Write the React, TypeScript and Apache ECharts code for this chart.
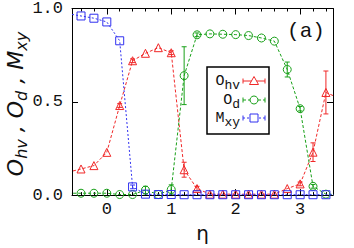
import React, { useEffect, useRef } from "react";
import * as echarts from "echarts";

const ETA = [-0.6, -0.4, -0.2, 0, 0.2, 0.4, 0.6, 0.8, 1.0, 1.2, 1.4, 1.6, 1.8, 2.0, 2.2, 2.4, 2.6, 2.8, 3.0, 3.2, 3.4, 3.6];
const O_HV = [0.123, 0.14, 0.158, 0.229, 0.48, 0.72, 0.76, 0.79, 0.763, 0.136, 0.035, 0.005, 0.005, 0.005, 0.005, 0.005, 0.005, 0.035, 0.06, 0.23, 0.55, 0.52];
const O_HV_ERR = [0.005, 0.005, 0.005, 0.006, 0.01, 0.01, 0.008, 0.008, 0.01, 0.04, 0.012, 0.004, 0.004, 0.004, 0.004, 0.004, 0.004, 0.008, 0.01, 0.05, 0.115, 0.1];
const O_D = [0.01, 0.01, 0.01, 0.01, 0.003, 0.003, 0.027, 0.003, 0.03, 0.64, 0.859, 0.864, 0.862, 0.86, 0.855, 0.842, 0.825, 0.673, 0.463, 0.047, 0.005, 0.003];
const O_D_ERR = [0.004, 0.004, 0.006, 0.004, 0.004, 0.004, 0.02, 0.004, 0.025, 0.155, 0.01, 0.006, 0.006, 0.006, 0.006, 0.006, 0.006, 0.04, 0.012, 0.01, 0.004, 0.004];
const M_XY = [0.972, 0.96, 0.948, 0.928, 0.827, 0.044, 0.005, 0.003, 0.003, 0.002, 0.002, 0.002, 0.002, 0.002, 0.002, 0.002, 0.002, 0.002, 0.002, 0.002, 0.002, 0.002];
const M_XY_ERR = [0.003, 0.003, 0.003, 0.004, 0.005, 0.01, 0.004, 0.003, 0.003, 0.003, 0.003, 0.003, 0.003, 0.003, 0.003, 0.003, 0.003, 0.003, 0.003, 0.003, 0.003, 0.003];

const X_MAJOR = [0, 1, 2, 3];
const X_MINOR = [-0.4, -0.2, 0.2, 0.4, 0.6, 0.8, 1.2, 1.4, 1.6, 1.8, 2.2, 2.4, 2.6, 2.8, 3.2, 3.4];
const X_MIN = -0.54;
const X_MAX = 3.51;

const RED = "#f02828";
const GREEN = "#18a018";
const BLUE = "#3030f0";
const MONO = "Liberation Mono, DejaVu Sans Mono, monospace";

function errSeries(vals: number[], errs: number[], color: string) {
  return {
    type: "custom",
    data: ETA.map((x, i) => [x, vals[i], errs[i]]),
    encode: { x: 0, y: 1 },
    clip: true,
    z: 1,
    silent: true,
    renderItem: (params: any, api: any) => {
      const x = api.value(0);
      const y = api.value(1);
      const e = api.value(2);
      const top = api.coord([x, y + e]);
      const bot = api.coord([x, y - e]);
      if (bot[1] - top[1] < 3) return null;
      const w = 2.5;
      const st = { stroke: color, lineWidth: 1 };
      return {
        type: "group",
        children: [
          { type: "line", shape: { x1: top[0], y1: top[1], x2: bot[0], y2: bot[1] }, style: st },
          { type: "line", shape: { x1: top[0] - w, y1: top[1], x2: top[0] + w, y2: top[1] }, style: st },
          { type: "line", shape: { x1: bot[0] - w, y1: bot[1], x2: bot[0] + w, y2: bot[1] }, style: st },
        ],
      };
    },
  };
}

function lineSeries(vals: number[], color: string, symbol: string, dash: number[], z: number) {
  return {
    type: "line",
    data: ETA.map((x, i) => [x, vals[i]]),
    symbol,
    symbolSize: 8,
    clip: true,
    z,
    itemStyle: { color: "rgba(255,255,255,0)", borderColor: color, borderWidth: 1 },
    lineStyle: { color, width: 1, type: dash },
    emphasis: { disabled: true },
  };
}

function legendRow(y: number, main: string, sub: string, color: string, dash: number[], kind: string) {
  const x1 = 243;
  const x2 = 265;
  const cx = 254;
  const st = { stroke: color, lineWidth: 1, lineDash: dash };
  const els: any[] = [
    {
      type: "text",
      x: 240,
      y: y,
      style: {
        text: `{m|${main}}{s|${sub}}`,
        align: "right",
        verticalAlign: "middle",
        rich: {
          m: { fontFamily: MONO, fontSize: 15, fill: "#111" },
          s: { fontFamily: MONO, fontSize: 13, fill: "#111", padding: [9, 0, 0, 0] },
        },
      },
    },
    { type: "line", shape: { x1, y1: y, x2, y2: y }, style: st },
    { type: "line", shape: { x1, y1: y - 2.5, x2: x1, y2: y + 2.5 }, style: { stroke: color, lineWidth: 1 } },
    { type: "line", shape: { x1: x2, y1: y - 2.5, x2: x2, y2: y + 2.5 }, style: { stroke: color, lineWidth: 1 } },
  ];
  const ms = { stroke: color, lineWidth: 1, fill: "#fff" };
  if (kind === "tri") els.push({ type: "polygon", shape: { points: [[cx, y - 4.5], [cx + 4.5, y + 3.5], [cx - 4.5, y + 3.5]] }, style: ms });
  if (kind === "circ") els.push({ type: "circle", shape: { cx, cy: y, r: 4 }, style: ms });
  if (kind === "sq") els.push({ type: "rect", shape: { x: cx - 4, y: y - 4, width: 8, height: 8 }, style: ms });
  return els;
}

export default function App() {
  const ref = useRef<HTMLDivElement>(null);
  useEffect(() => {
    if (!ref.current) return;
    const chart = echarts.init(ref.current, undefined, { renderer: "svg" });
    const axisLine = { show: true, onZero: false, lineStyle: { color: "#000", width: 1 } };
    const baseX = { type: "value", min: X_MIN, max: X_MAX, splitLine: { show: false } };
    const legendEls = [
      {
        type: "rect",
        shape: { x: 207, y: 67, width: 62, height: 67 },
        style: { fill: "#fff", stroke: "#000", lineWidth: 1.5 },
      },
      ...legendRow(81, "O", "hv", RED, [], "tri"),
      ...legendRow(100, "O", "d", GREEN, [3, 2], "circ"),
      ...legendRow(118, "M", "xy", BLUE, [2, 2], "sq"),
    ].map((e: any, i: number) => ({ ...e, z: 100 + i }));
    chart.setOption({
      animation: false,
      backgroundColor: "#fff",
      grid: { left: 72, top: 8, width: 261, height: 198, containLabel: false },
      xAxis: [
        {
          ...baseX,
          position: "bottom",
          axisLine,
          axisTick: { show: true, inside: true, length: 6, customValues: X_MAJOR, lineStyle: { color: "#000" } },
          axisLabel: { show: true, customValues: X_MAJOR, margin: 6, fontFamily: MONO, fontSize: 17, color: "#111" },
          name: "η",
          nameLocation: "middle",
          nameGap: 18,
          nameTextStyle: { fontFamily: "DejaVu Sans", fontSize: 20, color: "#111" },
        },
        {
          ...baseX,
          position: "bottom",
          axisLine: { show: false, onZero: false },
          axisTick: { show: true, inside: true, length: 3, customValues: X_MINOR, lineStyle: { color: "#000" } },
          axisLabel: { show: false },
        },
        {
          ...baseX,
          position: "top",
          axisLine,
          axisTick: { show: true, inside: true, length: 6, customValues: X_MAJOR, lineStyle: { color: "#000" } },
          axisLabel: { show: false },
        },
        {
          ...baseX,
          position: "top",
          axisLine: { show: false, onZero: false },
          axisTick: { show: true, inside: true, length: 3, customValues: X_MINOR, lineStyle: { color: "#000" } },
          axisLabel: { show: false },
        },
      ],
      yAxis: [
        {
          type: "value",
          min: 0,
          max: 1,
          interval: 0.5,
          position: "left",
          axisLine,
          splitLine: { show: false },
          axisTick: { show: true, inside: true, length: 6, lineStyle: { color: "#000" } },
          axisLabel: { margin: 9, fontFamily: MONO, fontSize: 17, color: "#111", formatter: (v: number) => v.toFixed(1) },
        },
        {
          type: "value",
          min: 0,
          max: 1,
          interval: 0.5,
          position: "right",
          axisLine,
          splitLine: { show: false },
          axisTick: { show: true, inside: true, length: 6, lineStyle: { color: "#000" } },
          axisLabel: { show: false },
        },
      ],
      series: [
        errSeries(O_HV, O_HV_ERR, RED),
        errSeries(O_D, O_D_ERR, GREEN),
        errSeries(M_XY, M_XY_ERR, BLUE),
        lineSeries(O_HV, RED, "triangle", [3, 2], 3),
        lineSeries(O_D, GREEN, "circle", [3, 2], 4),
        lineSeries(M_XY, BLUE, "rect", [2, 2], 5),
      ],
      graphic: [
        {
          type: "text",
          x: 15,
          y: 104,
          rotation: Math.PI / 2,
          style: {
            text: "{m|O}{s|hv}{m| , O}{s|d}{m| , M}{s|xy}",
            align: "center",
            verticalAlign: "middle",
            rich: {
              m: { fontFamily: "DejaVu Sans", fontStyle: "italic", fontSize: 22, fill: "#111" },
              s: { fontFamily: "DejaVu Sans", fontStyle: "italic", fontSize: 16, fill: "#111", padding: [12, 0, 0, 0] },
            },
          },
        },
        {
          type: "text",
          x: 306,
          y: 31,
          style: { text: "(a)", fontFamily: MONO, fontSize: 21, fill: "#111", align: "center", verticalAlign: "middle" },
        },
        ...legendEls,
      ],
    });
    return () => chart.dispose();
  }, []);
  return <div ref={ref} style={{ width: 354, height: 248, position: "absolute", left: 0, top: 0 }} />;
}
